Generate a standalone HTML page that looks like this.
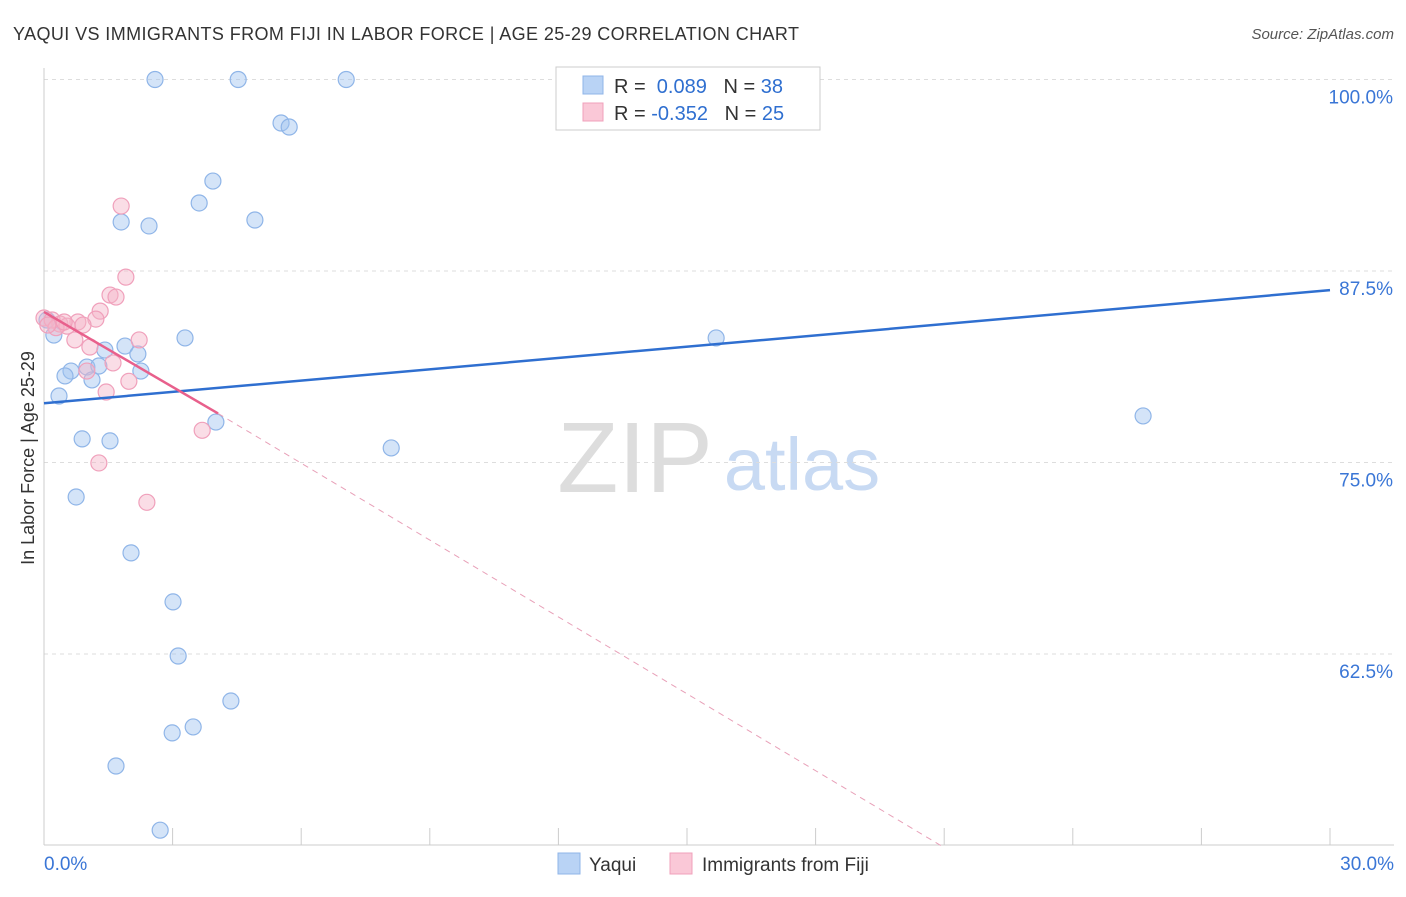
<!DOCTYPE html>
<html><head><meta charset="utf-8">
<style>
body{margin:0;background:#fff;font-family:"Liberation Sans",sans-serif;}
svg text{font-family:"Liberation Sans",sans-serif;}
</style></head>
<body>
<svg id="chart" width="1406" height="892" viewBox="0 0 1406 892" xmlns="http://www.w3.org/2000/svg">
<text x="13" y="40" font-size="18" fill="#333" textLength="786">YAQUI VS IMMIGRANTS FROM FIJI IN LABOR FORCE | AGE 25-29 CORRELATION CHART</text>
<text x="1394" y="39" font-size="15" fill="#555" text-anchor="end" font-style="italic">Source: ZipAtlas.com</text>
<g>
<text x="635" y="492" font-size="100" fill="#ddd" text-anchor="middle" font-family="Liberation Serif,serif">ZIP</text>
<text x="802" y="490" font-size="74" fill="#c8daf3" text-anchor="middle">atlas</text>
</g>
<g id="grid"></g>
<g id="axes"></g>
<g id="points"></g>
<g id="lines"></g>
<text transform="translate(34,458) rotate(-90)" font-size="18" fill="#333" text-anchor="middle">In Labor Force | Age 25-29</text>
<g>
<rect x="556" y="67" width="264" height="63" fill="#fff" stroke="#ccc"/>
<rect x="583" y="76" width="20" height="18" fill="#b9d3f5" stroke="#8fb5e8"/>
<rect x="583" y="103" width="20" height="18" fill="#fac8d7" stroke="#f0a0bb"/>
<text x="614" y="93" font-size="20" fill="#333">R = <tspan fill="#2f6fd0">&#160;0.089</tspan>&#160;&#160;&#160;N = <tspan fill="#2f6fd0">38</tspan></text>
<text x="614" y="120" font-size="20" fill="#333">R = <tspan fill="#2f6fd0">-0.352</tspan>&#160;&#160;&#160;N = <tspan fill="#2f6fd0">25</tspan></text>
</g>
<g>
<rect x="558" y="853" width="22" height="21" fill="#b9d3f5" stroke="#8fb5e8"/>
<text x="589" y="871" font-size="19" fill="#333">Yaqui</text>
<rect x="670" y="853" width="22" height="21" fill="#fac8d7" stroke="#f0a0bb"/>
<text x="702" y="871" font-size="19" fill="#333">Immigrants from Fiji</text>
</g>
</svg>
<script>
const yaquiX=[2.59,4.53,7.05,5.53,5.72,3.94,3.62,4.92,1.80,2.45,3.29,15.68,0.23,0.07,1.89,1.42,2.19,1.0,1.28,0.63,0.49,2.26,1.12,0.35,4.01,25.64,0.89,1.54,8.1,0.75,2.03,3.01,3.13,4.36,3.48,2.99,1.68,2.71];
const yaquiY=[100,100,100,97.16,96.9,93.37,91.94,90.83,90.70,90.44,83.13,83.13,83.32,84.3,82.6,82.34,82.08,81.23,81.3,80.97,80.65,80.97,80.39,79.34,77.64,78.04,76.54,76.41,75.95,72.75,69.1,65.9,62.37,59.43,57.74,57.35,55.19,51.0];
const fijiX=[1.80,1.91,1.54,1.68,1.31,1.21,0.79,0,0.37,0.54,0.91,2.22,0.72,1.07,1.61,1.0,1.98,1.45,3.69,1.28,2.40,0.19,0.28,0.47,0.09];
const fijiY=[91.74,87.1,85.93,85.8,84.88,84.36,84.17,84.43,84.04,83.9,83.97,83.0,83.0,82.54,81.5,80.97,80.3,79.6,77.1,74.97,72.4,84.3,83.8,84.17,83.97];
const yTicks=[100,87.5,75,62.5];
const yTickLabels=["100.0%","87.5%","75.0%","62.5%"];
const xTicks=[0,3,6,9,12,15,18,21,24,27,30];
const blueLine=[0,78.87,30,86.25];
const pinkLine=[0,84.83,4.06,78.2,20.92,50];
const NS="http://www.w3.org/2000/svg";
const X=v=>44+v/30*1286;
const Y=v=>79.5+(100-v)/12.5*191.5;
function mk(tag,attrs,parent){const e=document.createElementNS(NS,tag);for(const k in attrs)e.setAttribute(k,attrs[k]);document.getElementById(parent).appendChild(e);return e;}
yTicks.forEach((t,i)=>{
 const l=mk('line',{x1:44,x2:1394,y1:Y(t),y2:Y(t),stroke:'#ddd','stroke-dasharray':'4,4'},'grid');
 
 
 const tx=mk('text',{x:1393,y:Y(t)+24,'font-size':19,fill:'#3a76d6','text-anchor':'end'},'grid');
 tx.textContent=yTickLabels[i];
 
 
});
const ax=mk('line',{x1:44,x2:1394,y1:845,y2:845,stroke:'#ccc'},'axes');


const ay=mk('line',{x1:44,x2:44,y1:68,y2:845,stroke:'#ccc'},'axes');


xTicks.forEach(t=>{
 const l=mk('line',{x1:X(t),x2:X(t),y1:828,y2:845,stroke:'#ccc'},'axes');
 
 
});
const xl0=mk('text',{x:44,y:870,'font-size':19,fill:'#3a76d6'},'axes');xl0.textContent='0.0%';


const xl1=mk('text',{x:1394,y:870,'font-size':19,fill:'#3a76d6','text-anchor':'end'},'axes');xl1.textContent='30.0%';


yaquiX.forEach((v,i)=>{
 const c=mk('circle',{cx:X(v),cy:Y(yaquiY[i]),r:8,fill:'rgba(160,196,240,0.45)',stroke:'#8fb5e8','stroke-width':1.2},'points');
 
 
});
fijiX.forEach((v,i)=>{
 const c=mk('circle',{cx:X(v),cy:Y(fijiY[i]),r:8,fill:'rgba(245,180,200,0.45)',stroke:'#f0a0bb','stroke-width':1.2},'points');
 
 
});
const bl=mk('line',{x1:X(blueLine[0]),y1:Y(blueLine[1]),x2:X(blueLine[2]),y2:Y(blueLine[3]),stroke:'#2f6fd0','stroke-width':2.5},'lines');


const pl=mk('line',{x1:X(pinkLine[0]),y1:Y(pinkLine[1]),x2:X(pinkLine[2]),y2:Y(pinkLine[3]),stroke:'#e8608c','stroke-width':2.5},'lines');


const pd=mk('line',{x1:X(pinkLine[2]),y1:Y(pinkLine[3]),x2:X(pinkLine[4]),y2:Y(pinkLine[5]),stroke:'#e8a0b8','stroke-width':1,'stroke-dasharray':'6,5'},'lines');


</script>
</body></html>
